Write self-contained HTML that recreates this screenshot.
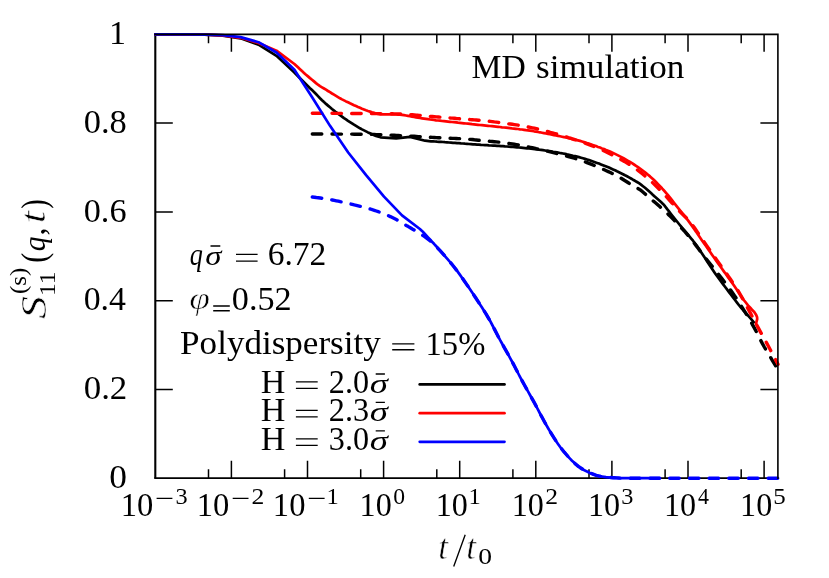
<!DOCTYPE html>
<html>
<head>
<meta charset="utf-8">
<title>S11(q,t) MD simulation</title>
<style>
html,body{margin:0;padding:0;background:#fff;}
svg{will-change:transform;}
body{width:829px;height:578px;overflow:hidden;font-family:"Liberation Serif",serif;}
svg{display:block;}
svg text{font-family:"Liberation Serif",serif;fill:#000;}
</style>
</head>
<body>
<svg width="829" height="578" viewBox="0 0 829 578">
<rect x="0" y="0" width="829" height="578" fill="#ffffff"/>
<!-- ticks -->
<path d="M208.5,478.2 v-8.9 M208.5,34.35 v8.9 M231.4,478.2 v-17.5 M231.4,34.35 v17.5 M284.6,478.2 v-8.9 M284.6,34.35 v8.9 M307.5,478.2 v-17.5 M307.5,34.35 v17.5 M360.7,478.2 v-8.9 M360.7,34.35 v8.9 M383.6,478.2 v-17.5 M383.6,34.35 v17.5 M436.8,478.2 v-8.9 M436.8,34.35 v8.9 M459.7,478.2 v-17.5 M459.7,34.35 v17.5 M512.9,478.2 v-8.9 M512.9,34.35 v8.9 M535.8,478.2 v-17.5 M535.8,34.35 v17.5 M589.0,478.2 v-8.9 M589.0,34.35 v8.9 M611.9,478.2 v-17.5 M611.9,34.35 v17.5 M665.1,478.2 v-8.9 M665.1,34.35 v8.9 M688.0,478.2 v-17.5 M688.0,34.35 v17.5 M741.2,478.2 v-8.9 M741.2,34.35 v8.9 M764.1,478.2 v-17.5 M764.1,34.35 v17.5 M155.3,389.4 h17.5 M777.9,389.4 h-17.5 M155.3,300.7 h17.5 M777.9,300.7 h-17.5 M155.3,211.9 h17.5 M777.9,211.9 h-17.5 M155.3,123.1 h17.5 M777.9,123.1 h-17.5" fill="none" stroke="#000" stroke-width="1.5"/>
<!-- left / bottom axes (behind curves) -->
<path d="M155.3,33.550000000000004 V478.2" fill="none" stroke="#000" stroke-width="2.1"/>
<path d="M154.25,478.2 H777.9" fill="none" stroke="#000" stroke-width="1.75"/>
<!-- legend samples -->
<path d="M419.7,384.4 H504.5" stroke="#000" stroke-width="2.7" stroke-linecap="round" fill="none"/>
<path d="M419.7,413.2 H504.5" stroke="#f00" stroke-width="2.7" stroke-linecap="round" fill="none"/>
<path d="M419.7,441.8 H504.5" stroke="#00f" stroke-width="2.7" stroke-linecap="round" fill="none"/>
<!-- curves -->
<g fill="none" stroke-linejoin="round">
<path d="M155.3,34.4 L186.8,34.4 L204.7,34.7 L222.7,35.6 L240.6,38.3 L258.5,44.7 L276.5,55.8 L294.4,72.5 L298.0,76.2 L300.0,78.2 L302.0,80.2 L304.0,82.2 L306.0,84.2 L308.0,86.2 L310.0,88.2 L312.0,90.1 L314.0,92.0 L316.0,94.0 L318.0,96.1 L320.0,98.2 L322.0,100.2 L324.0,102.1 L326.0,103.9 L328.0,105.6 L330.0,107.3 L332.0,109.0 L334.0,110.6 L336.0,112.2 L338.0,113.7 L340.0,115.2 L342.0,116.6 L344.0,118.1 L346.0,119.4 L348.0,120.8 L350.0,122.1 L352.0,123.4 L354.0,124.7 L356.0,125.9 L358.0,127.1 L360.0,128.3 L362.0,129.4 L364.0,130.4 L366.0,131.4 L368.0,132.4 L370.0,133.3 L372.0,134.2 L374.0,135.0 L376.0,135.9 L380.5,137.3 L396.2,138.3 L410.1,136.9 L425.1,140.7 L427.0,140.9 L429.0,141.1 L431.0,141.3 L433.0,141.4 L435.0,141.5 L437.0,141.7 L439.0,141.8 L441.0,141.9 L443.0,142.0 L445.0,142.2 L447.0,142.3 L449.0,142.5 L451.0,142.6 L453.0,142.8 L455.0,142.9 L457.0,143.1 L459.0,143.2 L461.0,143.4 L463.0,143.5 L465.0,143.7 L467.0,143.8 L469.0,144.0 L471.0,144.1 L473.0,144.3 L475.0,144.4 L477.0,144.6 L479.0,144.7 L481.0,144.9 L483.0,145.0 L485.0,145.1 L487.0,145.2 L489.0,145.4 L491.0,145.5 L493.0,145.6 L495.0,145.7 L497.0,145.8 L499.0,145.9 L501.0,146.1 L503.0,146.2 L505.0,146.4 L507.0,146.5 L509.0,146.7 L511.0,146.8 L513.0,147.0 L515.0,147.1 L517.0,147.3 L519.0,147.5 L521.0,147.7 L523.0,147.9 L525.0,148.1 L527.0,148.3 L529.0,148.5 L531.0,148.7 L533.0,148.9 L535.0,149.2 L537.0,149.4 L539.0,149.7 L541.0,149.9 L543.0,150.2 L545.0,150.5 L547.0,150.8 L549.0,151.1 L551.0,151.4 L553.0,151.8 L555.0,152.1 L557.0,152.4 L559.0,152.8 L561.0,153.2 L563.0,153.5 L565.0,153.9 L567.0,154.4 L569.0,154.8 L571.0,155.2 L573.0,155.7 L575.0,156.1 L577.0,156.6 L579.0,157.1 L581.0,157.7 L583.0,158.3 L585.0,158.9 L587.0,159.5 L589.0,160.1 L591.0,160.8 L593.0,161.5 L595.0,162.2 L597.0,162.9 L599.0,163.6 L601.0,164.4 L603.0,165.2 L605.0,166.0 L607.0,166.8 L609.0,167.6 L611.0,168.5 L613.0,169.4 L615.0,170.3 L617.0,171.3 L619.0,172.2 L621.0,173.2 L623.0,174.2 L625.0,175.3 L627.0,176.3 L629.0,177.4 L631.0,178.5 L633.0,179.7 L635.0,180.8 L637.0,182.0 L639.0,183.2 L641.0,184.6 L643.0,186.2 L645.0,187.8 L647.0,189.5 L649.0,191.3 L651.0,193.1 L653.0,194.9 L655.0,196.8 L657.0,198.5 L659.0,200.2 L661.0,202.0 L663.0,203.9 L665.0,206.2 L667.0,208.9 L669.0,211.4 L671.0,214.0 L673.0,216.5 L675.0,219.0 L677.0,221.5 L679.0,224.0 L681.0,226.4 L683.0,228.8 L685.0,231.2 L687.0,233.5 L689.0,235.9 L691.0,238.3 L693.0,240.7 L695.0,243.3 L697.0,246.0 L699.0,248.9 L701.0,251.9 L703.0,255.0 L705.0,258.1 L707.0,261.2 L709.0,264.3 L711.0,267.3 L713.0,270.3 L715.0,273.2 L717.0,276.0 L719.0,278.7 L721.0,281.4 L723.0,284.1 L725.0,286.8 L727.0,289.4 L729.0,292.1 L731.0,294.8 L733.0,297.4 L735.0,300.0 L737.0,302.6 L739.0,305.2 L741.0,307.6 L743.0,310.0 L745.0,312.2 L747.0,314.4 L749.0,316.6 L751.0,318.9 L753.0,321.3 L753.8,322.3" stroke="#000" stroke-width="2.7" stroke-linecap="round"/>
<path d="M312.3,134.0 L314.3,134.0 L316.3,134.0 L318.3,134.0 L320.3,134.0 L322.3,134.0 L324.3,134.0 L326.3,134.0 L328.3,134.0 L330.3,134.0 L332.3,134.0 L334.3,134.0 L336.3,134.1 L338.3,134.1 L340.3,134.1 L342.3,134.1 L344.3,134.1 L346.3,134.1 L348.3,134.1 L350.3,134.1 L352.3,134.1 L354.3,134.2 L356.3,134.2 L358.3,134.2 L360.3,134.2 L362.3,134.2 L364.3,134.3 L366.3,134.3 L368.3,134.3 L370.3,134.4 L372.3,134.4 L374.3,134.5 L376.3,134.6 L378.3,134.6 L380.3,134.7 L382.3,134.8 L384.3,134.9 L386.3,135.0 L388.3,135.0 L390.3,135.1 L392.3,135.2 L394.3,135.3 L396.3,135.4 L398.3,135.5 L400.3,135.6 L402.3,135.6 L404.3,135.7 L406.3,135.9 L408.3,136.0 L410.3,136.1 L412.3,136.2 L414.3,136.3 L416.3,136.4 L418.3,136.6 L420.3,136.7 L422.3,136.8 L424.3,136.9 L426.3,137.1 L428.3,137.2 L430.3,137.3 L432.3,137.4 L434.3,137.5 L436.3,137.6 L438.3,137.7 L440.3,137.8 L442.3,137.9 L444.3,138.0 L446.3,138.1 L448.3,138.2 L450.3,138.3 L452.3,138.4 L454.3,138.4 L456.3,138.5 L458.3,138.6 L460.3,138.7 L462.3,138.8 L464.3,139.0 L466.3,139.1 L468.3,139.2 L470.3,139.4 L472.3,139.5 L474.3,139.8 L476.3,140.0 L478.3,140.2 L480.3,140.4 L482.3,140.6 L484.3,140.8 L486.3,141.0 L488.3,141.2 L490.3,141.4 L492.3,141.5 L494.3,141.7 L496.3,141.9 L498.3,142.1 L500.3,142.3 L502.3,142.6 L504.3,142.8 L506.3,143.1 L508.3,143.4 L510.3,143.7 L512.3,144.0 L514.3,144.3 L516.3,144.6 L518.3,145.0 L520.3,145.4 L522.3,145.7 L524.3,146.1 L526.3,146.5 L528.3,146.9 L530.3,147.3 L532.3,147.7 L534.3,148.1 L536.3,148.6 L538.3,149.0 L540.3,149.5 L542.3,150.0 L544.3,150.5 L546.3,150.9 L548.3,151.4 L550.3,151.9 L552.3,152.4 L554.3,152.9 L556.3,153.4 L558.3,153.9 L560.3,154.4 L562.3,154.9 L564.3,155.4 L566.3,156.0 L568.3,156.5 L570.3,157.0 L572.3,157.6 L574.3,158.2 L576.3,158.8 L578.3,159.5 L580.3,160.1 L582.3,160.8 L584.3,161.6 L586.3,162.3 L588.3,163.1 L590.3,163.9 L592.3,164.7 L594.3,165.5 L596.3,166.3 L598.3,167.2 L600.3,168.0 L602.3,168.9 L604.3,169.8 L606.3,170.7 L608.3,171.6 L610.3,172.5 L612.3,173.5 L614.3,174.5 L616.3,175.6 L618.3,176.7 L620.3,177.8 L622.3,179.0 L624.3,180.3 L626.3,181.5 L628.3,182.8 L630.3,184.1 L632.3,185.3 L634.3,186.5 L636.3,187.6 L638.3,188.7 L640.3,189.9 L642.3,191.5 L644.3,193.2 L646.3,195.1 L648.3,197.0 L650.3,198.7 L652.3,200.2 L654.3,201.8 L656.3,203.5 L658.3,205.3 L660.3,207.1 L662.3,208.9 L664.3,210.8 L666.3,212.6 L668.3,214.4 L670.3,216.3 L672.3,218.3 L674.3,220.4 L676.3,222.5 L678.3,224.7 L680.3,226.8 L682.3,228.9 L684.3,231.0 L686.3,233.3 L688.3,235.6 L690.3,238.1 L692.3,240.7 L694.3,243.3 L696.3,245.9 L698.3,248.6 L700.3,251.2 L702.3,253.9 L704.3,256.5 L706.3,259.0 L708.3,261.5 L710.3,264.0 L712.3,266.5 L714.3,269.0 L716.3,271.5 L718.3,274.1 L720.3,276.6 L722.3,279.1 L724.3,281.7 L726.3,284.3 L728.3,286.9 L730.3,289.6 L732.3,292.5 L734.3,295.4 L736.3,298.3 L738.3,301.4 L740.3,304.5 L742.3,307.6 L744.3,310.8 L746.3,314.1 L748.3,317.5 L750.3,320.9 L752.3,324.3 L754.3,327.9 L756.3,331.7 L758.3,335.7 L760.3,339.6 L762.3,343.4 L764.3,347.0 L766.3,350.4 L768.3,353.8 L770.3,357.0 L772.3,360.3 L774.3,363.5 L776.3,366.8 L778.0,369.5" stroke="#000" stroke-width="3.4" stroke-dasharray="9.5 10.2" stroke-linecap="round"/>
<path d="M155.3,34.4 L186.8,34.4 L204.7,34.6 L222.7,35.3 L240.6,37.8 L258.5,43.0 L276.5,50.7 L294.4,64.0 L298.0,67.3 L300.0,69.2 L302.0,71.1 L304.0,72.9 L306.0,74.7 L308.0,76.4 L310.0,78.1 L312.0,79.7 L314.0,81.4 L316.0,83.1 L318.0,84.7 L320.0,86.1 L322.0,87.3 L324.0,88.5 L326.0,89.7 L328.0,91.0 L330.0,92.2 L332.0,93.5 L334.0,94.7 L336.0,95.9 L338.0,97.1 L340.0,98.3 L342.0,99.4 L344.0,100.4 L346.0,101.4 L348.0,102.3 L350.0,103.3 L352.0,104.2 L354.0,105.2 L356.0,106.1 L358.0,107.0 L360.0,107.8 L362.0,108.7 L364.0,109.5 L366.0,110.3 L368.0,111.0 L370.0,111.6 L372.0,112.3 L374.0,112.9 L376.0,113.5 L378.0,114.0 L380.0,114.2 L382.0,114.3 L384.0,114.3 L386.0,114.4 L388.0,114.4 L390.0,114.4 L392.0,114.4 L394.0,114.5 L396.0,114.5 L398.0,114.6 L400.0,114.7 L402.0,114.9 L404.0,115.2 L406.0,115.5 L408.0,115.9 L410.0,116.3 L412.0,116.7 L414.0,117.0 L416.0,117.3 L418.0,117.6 L420.0,118.0 L422.0,118.3 L424.0,118.6 L426.0,118.9 L428.0,119.2 L430.0,119.5 L432.0,119.7 L434.0,120.0 L436.0,120.3 L438.0,120.5 L440.0,120.7 L442.0,121.0 L444.0,121.2 L446.0,121.4 L448.0,121.6 L450.0,121.8 L452.0,122.0 L454.0,122.2 L456.0,122.4 L458.0,122.7 L460.0,122.9 L462.0,123.1 L464.0,123.3 L466.0,123.5 L468.0,123.7 L470.0,123.9 L472.0,124.2 L474.0,124.4 L476.0,124.6 L478.0,124.8 L480.0,125.0 L482.0,125.2 L484.0,125.4 L486.0,125.6 L488.0,125.8 L490.0,126.0 L492.0,126.2 L494.0,126.4 L496.0,126.6 L498.0,126.8 L500.0,127.0 L502.0,127.3 L504.0,127.5 L506.0,127.7 L508.0,127.9 L510.0,128.1 L512.0,128.4 L514.0,128.6 L516.0,128.8 L518.0,129.0 L520.0,129.3 L522.0,129.5 L524.0,129.8 L526.0,130.1 L528.0,130.3 L530.0,130.6 L532.0,130.9 L534.0,131.3 L536.0,131.6 L538.0,132.0 L540.0,132.3 L542.0,132.7 L544.0,133.1 L546.0,133.5 L548.0,133.9 L550.0,134.3 L552.0,134.7 L554.0,135.1 L556.0,135.5 L558.0,135.9 L560.0,136.3 L562.0,136.7 L564.0,137.1 L566.0,137.5 L568.0,138.0 L570.0,138.4 L572.0,138.9 L574.0,139.4 L576.0,139.9 L578.0,140.4 L580.0,140.9 L582.0,141.5 L584.0,142.1 L586.0,142.7 L588.0,143.4 L590.0,144.0 L592.0,144.7 L594.0,145.4 L596.0,146.1 L598.0,146.9 L600.0,147.6 L602.0,148.4 L604.0,149.1 L606.0,150.0 L608.0,150.8 L610.0,151.6 L612.0,152.5 L614.0,153.4 L616.0,154.4 L618.0,155.4 L620.0,156.4 L622.0,157.4 L624.0,158.5 L626.0,159.6 L628.0,160.8 L630.0,162.0 L632.0,163.2 L634.0,164.5 L636.0,165.8 L638.0,167.1 L640.0,168.5 L642.0,170.0 L644.0,171.5 L646.0,173.1 L648.0,174.7 L650.0,176.4 L652.0,178.2 L654.0,180.1 L656.0,182.0 L658.0,184.1 L660.0,186.2 L662.0,188.3 L664.0,190.5 L666.0,192.8 L668.0,195.2 L670.0,197.7 L672.0,200.2 L674.0,202.8 L676.0,205.4 L678.0,207.9 L680.0,210.4 L682.0,212.9 L684.0,215.4 L686.0,217.9 L688.0,220.4 L690.0,223.1 L692.0,225.9 L694.0,228.8 L696.0,231.6 L698.0,234.6 L700.0,237.5 L702.0,240.4 L704.0,243.2 L706.0,246.1 L708.0,248.9 L710.0,251.8 L712.0,254.7 L714.0,257.5 L716.0,260.4 L718.0,263.2 L720.0,266.0 L722.0,268.8 L724.0,271.6 L726.0,274.3 L728.0,277.1 L730.0,279.9 L732.0,282.7 L734.0,285.6 L736.0,288.5 L738.0,291.5 L740.0,294.5 L742.0,297.4 L744.0,300.2 L746.0,302.8 L748.0,305.3 L750.0,307.5 L752.0,309.7 L754.0,311.7 L754.1,311.8 L756.2,315.0 L757.1,317.3 L757.2,319.2 L756.0,323.6" stroke="#f00" stroke-width="2.7" stroke-linecap="round"/>
<path d="M312.3,113.3 L314.3,113.3 L316.3,113.3 L318.3,113.3 L320.3,113.3 L322.3,113.3 L324.3,113.3 L326.3,113.3 L328.3,113.3 L330.3,113.3 L332.3,113.3 L334.3,113.4 L336.3,113.4 L338.3,113.4 L340.3,113.4 L342.3,113.4 L344.3,113.4 L346.3,113.4 L348.3,113.4 L350.3,113.4 L352.3,113.5 L354.3,113.5 L356.3,113.5 L358.3,113.5 L360.3,113.5 L362.3,113.5 L364.3,113.5 L366.3,113.5 L368.3,113.6 L370.3,113.6 L372.3,113.6 L374.3,113.6 L376.3,113.6 L378.3,113.6 L380.3,113.7 L382.3,113.7 L384.3,113.7 L386.3,113.7 L388.3,113.8 L390.3,113.8 L392.3,113.8 L394.3,113.9 L396.3,113.9 L398.3,113.9 L400.3,114.0 L402.3,114.1 L404.3,114.2 L406.3,114.3 L408.3,114.4 L410.3,114.6 L412.3,114.7 L414.3,114.9 L416.3,115.1 L418.3,115.3 L420.3,115.4 L422.3,115.6 L424.3,115.8 L426.3,116.0 L428.3,116.2 L430.3,116.4 L432.3,116.5 L434.3,116.7 L436.3,116.9 L438.3,117.0 L440.3,117.2 L442.3,117.3 L444.3,117.5 L446.3,117.6 L448.3,117.8 L450.3,118.0 L452.3,118.1 L454.3,118.3 L456.3,118.5 L458.3,118.6 L460.3,118.8 L462.3,118.9 L464.3,119.1 L466.3,119.2 L468.3,119.4 L470.3,119.6 L472.3,119.7 L474.3,119.9 L476.3,120.0 L478.3,120.2 L480.3,120.3 L482.3,120.5 L484.3,120.7 L486.3,120.9 L488.3,121.2 L490.3,121.4 L492.3,121.6 L494.3,121.9 L496.3,122.1 L498.3,122.4 L500.3,122.7 L502.3,122.9 L504.3,123.2 L506.3,123.5 L508.3,123.8 L510.3,124.0 L512.3,124.3 L514.3,124.6 L516.3,124.9 L518.3,125.2 L520.3,125.6 L522.3,125.9 L524.3,126.2 L526.3,126.6 L528.3,127.0 L530.3,127.4 L532.3,127.8 L534.3,128.2 L536.3,128.7 L538.3,129.2 L540.3,129.7 L542.3,130.2 L544.3,130.7 L546.3,131.2 L548.3,131.7 L550.3,132.3 L552.3,132.8 L554.3,133.4 L556.3,133.9 L558.3,134.5 L560.3,135.1 L562.3,135.7 L564.3,136.3 L566.3,136.9 L568.3,137.6 L570.3,138.2 L572.3,138.9 L574.3,139.5 L576.3,140.2 L578.3,140.9 L580.3,141.5 L582.3,142.2 L584.3,142.9 L586.3,143.6 L588.3,144.3 L590.3,145.1 L592.3,145.8 L594.3,146.6 L596.3,147.4 L598.3,148.3 L600.3,149.1 L602.3,150.0 L604.3,151.0 L606.3,151.9 L608.3,152.9 L610.3,153.9 L612.3,154.9 L614.3,155.9 L616.3,157.0 L618.3,158.0 L620.3,159.1 L622.3,160.3 L624.3,161.4 L626.3,162.6 L628.3,163.8 L630.3,165.1 L632.3,166.4 L634.3,167.7 L636.3,169.1 L638.3,170.6 L640.3,172.1 L642.3,173.7 L644.3,175.3 L646.3,177.0 L648.3,178.7 L650.3,180.5 L652.3,182.4 L654.3,184.3 L656.3,186.3 L658.3,188.3 L660.3,190.4 L662.3,192.4 L664.3,194.5 L666.3,196.6 L668.3,198.8 L670.3,201.1 L672.3,203.3 L674.3,205.5 L676.3,207.7 L678.3,209.9 L680.3,212.0 L682.3,214.0 L684.3,215.9 L686.3,217.8 L688.3,219.9 L690.3,222.2 L692.3,224.8 L694.3,227.5 L696.3,230.4 L698.3,233.4 L700.3,236.4 L702.3,239.3 L704.3,242.2 L706.3,245.1 L708.3,247.9 L710.3,250.8 L712.3,253.6 L714.3,256.5 L716.3,259.4 L718.3,262.2 L720.3,265.0 L722.3,267.8 L724.3,270.6 L726.3,273.4 L728.3,276.2 L730.3,279.0 L732.3,282.0 L734.3,285.0 L736.3,288.0 L738.3,291.2 L740.3,294.6 L742.3,298.1 L744.3,301.7 L746.3,305.5 L748.3,309.2 L750.3,312.9 L752.3,316.7 L754.3,320.5 L756.3,324.2 L758.3,327.9 L760.3,331.6 L762.3,335.2 L764.3,338.7 L766.3,342.3 L768.3,346.0 L770.3,349.8 L772.3,353.6 L774.3,357.4 L776.3,361.1 L778.0,364.3" stroke="#f00" stroke-width="3.4" stroke-dasharray="9.5 10.2" stroke-linecap="round"/>
<path d="M155.3,34.4 L186.8,34.4 L204.7,34.6 L222.7,35.2 L240.6,37.1 L258.5,42.2 L276.5,52.5 L294.4,69.8 L312.3,97.4 L330.2,126.1 L348.2,152.5 L366.1,175.2 L384.0,196.6 L402.0,215.4 L419.9,229.0 L422.0,230.9 L424.0,233.0 L426.0,235.1 L428.0,237.3 L430.0,239.5 L432.0,241.7 L434.0,243.8 L436.0,246.0 L438.0,248.2 L440.0,250.4 L442.0,252.7 L444.0,255.0 L446.0,257.3 L448.0,259.6 L450.0,262.0 L452.0,264.4 L454.0,266.9 L456.0,269.5 L458.0,272.1 L460.0,274.9 L462.0,277.7 L464.0,280.5 L466.0,283.4 L468.0,286.3 L470.0,289.2 L472.0,292.2 L474.0,295.2 L476.0,298.2 L478.0,301.3 L480.0,304.4 L482.0,307.5 L484.0,310.7 L486.0,313.9 L488.0,317.3 L490.0,320.7 L492.0,324.5 L494.0,328.3 L496.0,332.3 L498.0,336.1 L500.0,339.9 L502.0,343.5 L504.0,347.1 L506.0,350.6 L508.0,354.2 L510.0,357.8 L512.0,361.5 L514.0,365.3 L516.0,369.1 L518.0,373.0 L520.0,376.8 L522.0,380.6 L524.0,384.3 L526.0,387.9 L528.0,391.4 L530.0,395.0 L532.0,398.5 L534.0,402.1 L536.0,405.8 L538.0,409.7 L540.0,413.5 L542.0,417.2 L544.0,420.9 L546.0,424.5 L548.0,428.0 L550.0,431.4 L552.0,434.7 L554.0,437.9 L556.0,441.0 L558.0,443.9 L560.0,446.7 L562.0,449.3 L564.0,451.8 L566.0,454.2 L568.0,456.5 L570.0,458.6 L572.0,460.7 L574.0,462.6 L576.0,464.5 L578.0,466.1 L580.0,467.5 L582.0,468.8 L584.0,470.0 L586.0,471.1 L588.0,472.0 L590.0,472.9 L592.0,473.7 L594.0,474.5 L596.0,475.2 L598.0,475.8 L600.0,476.2 L602.0,476.5 L604.0,476.8 L606.0,477.1 L608.0,477.3 L610.0,477.5 L612.0,477.7 L614.0,477.8 L616.0,477.9 L618.0,478.0 L620.0,478.1 L622.0,478.2 L624.0,478.2 L626.0,478.2 L628.0,478.2 L630.0,478.2 L632.0,478.2 L634.0,478.2 L636.0,478.2 L638.0,478.2 L640.0,478.2 L642.0,478.2 L644.0,478.2 L646.0,478.2 L648.0,478.2 L650.0,478.2 L652.0,478.2 L654.0,478.2 L656.0,478.2 L658.0,478.2 L660.0,478.2" stroke="#00f" stroke-width="2.7" stroke-linecap="round"/>
<path d="M312.3,197.0 L314.3,197.2 L316.3,197.5 L318.3,197.7 L320.3,198.0 L322.3,198.3 L324.3,198.6 L326.3,198.9 L328.3,199.3 L330.3,199.6 L332.3,200.0 L334.3,200.4 L336.3,200.8 L338.3,201.2 L340.3,201.7 L342.3,202.1 L344.3,202.6 L346.3,203.0 L348.3,203.5 L350.3,203.9 L352.3,204.4 L354.3,204.9 L356.3,205.3 L358.3,205.8 L360.3,206.3 L362.3,206.8 L364.3,207.3 L366.3,207.9 L368.3,208.4 L370.3,209.0 L372.3,209.7 L374.3,210.3 L376.3,211.0 L378.3,211.7 L380.3,212.4 L382.3,213.2 L384.3,214.0 L386.3,214.8 L388.3,215.7 L390.3,216.6 L392.3,217.6 L394.3,218.6 L396.3,219.6 L398.3,220.7 L400.3,221.9 L402.3,223.1 L404.3,224.3 L406.3,225.5 L408.3,226.6 L410.3,227.8 L412.3,229.0 L414.3,230.1 L416.3,231.4 L418.3,232.6 L420.3,233.9 L422.3,235.1 L424.3,236.4 L426.3,237.8 L428.3,239.3 L430.3,240.9 L432.3,242.8 L434.3,244.7 L436.3,246.7 L438.3,248.8 L440.3,250.9 L442.3,253.1 L444.3,255.3 L446.3,257.6 L448.3,260.0 L450.3,262.3 L452.3,264.8 L454.3,267.3 L456.3,269.9 L458.3,272.5 L460.3,275.3 L462.3,278.1 L464.3,281.0 L466.3,283.9 L468.3,286.8 L470.3,289.7 L472.3,292.7 L474.3,295.7 L476.3,298.7 L478.3,301.8 L480.3,304.9 L482.3,308.0 L484.3,311.2 L486.3,314.4 L488.3,317.8 L490.3,321.3 L492.3,325.0 L494.3,328.9 L496.3,332.8 L498.3,336.7 L500.3,340.4 L502.3,344.0 L504.3,347.6 L506.3,351.2 L508.3,354.7 L510.3,358.3 L512.3,362.0 L514.3,365.8 L516.3,369.7 L518.3,373.5 L520.3,377.4 L522.3,381.1 L524.3,384.8 L526.3,388.4 L528.3,392.0 L530.3,395.5 L532.3,399.1 L534.3,402.7 L536.3,406.4 L538.3,410.3 L540.3,414.1 L542.3,417.8 L544.3,421.5 L546.3,425.1 L548.3,428.5 L550.3,431.9 L552.3,435.1 L554.3,438.3 L556.3,441.4 L558.3,444.3 L560.3,447.1 L562.3,449.7 L564.3,452.2 L566.3,454.5 L568.3,456.8 L570.3,458.9 L572.3,461.0 L574.3,462.9 L576.3,464.7 L578.3,466.3 L580.3,467.7 L582.3,469.0 L584.3,470.2 L586.3,471.2 L588.3,472.2 L590.3,473.0 L592.3,473.8 L594.3,474.6 L596.3,475.3 L598.3,475.8 L600.3,476.3 L602.3,476.6 L604.3,476.9 L606.3,477.1 L608.3,477.4 L610.3,477.5 L612.3,477.7 L614.3,477.8 L616.3,477.9 L618.3,478.0 L620.3,478.1 L622.3,478.2 L624.3,478.2 L626.3,478.2 L628.3,478.2 L630.3,478.2 L632.3,478.2 L634.3,478.2 L636.3,478.2 L638.3,478.2 L640.3,478.2 L642.3,478.2 L644.3,478.2 L646.3,478.2 L648.3,478.2 L650.3,478.2 L652.3,478.2 L654.3,478.2 L656.3,478.2 L658.3,478.2 L660.3,478.2 L662.3,478.2 L664.3,478.2 L666.3,478.2 L668.3,478.2 L670.3,478.2 L672.3,478.2 L674.3,478.2 L676.3,478.2 L678.3,478.2 L680.3,478.2 L682.3,478.2 L684.3,478.2 L686.3,478.2 L688.3,478.2 L690.3,478.2 L692.3,478.2 L694.3,478.2 L696.3,478.2 L698.3,478.2 L700.3,478.2 L702.3,478.2 L704.3,478.2 L706.3,478.2 L708.3,478.2 L710.3,478.2 L712.3,478.2 L714.3,478.2 L716.3,478.2 L718.3,478.2 L720.3,478.2 L722.3,478.2 L724.3,478.2 L726.3,478.2 L728.3,478.2 L730.3,478.2 L732.3,478.2 L734.3,478.2 L736.3,478.2 L738.3,478.2 L740.3,478.2 L742.3,478.2 L744.3,478.2 L746.3,478.2 L748.3,478.2 L750.3,478.2 L752.3,478.2 L754.3,478.2 L756.3,478.2 L758.3,478.2 L760.3,478.2 L762.3,478.2 L764.3,478.2 L766.3,478.2 L768.3,478.2 L770.3,478.2 L772.3,478.2 L774.3,478.2 L776.3,478.2 L778.0,478.2" stroke="#00f" stroke-width="3.4" stroke-dasharray="9.5 10.2" stroke-linecap="round"/>
</g>
<!-- top / right border (in front) -->
<path d="M154.25,34.35 H777.9 V479.05" fill="none" stroke="#000" stroke-width="1.6" stroke-linejoin="miter"/>
<!-- sigma bars -->
<path d="M156.6,498.3 H172.4 M232.7,498.3 H248.5 M308.8,498.3 H324.6 M453.7,566.6 L465.2,534.8 M210.5,246 H220.3 M236,254.3 H257.6 M236,261.1 H257.6 M213.2,306 H229.8 M213.2,310.7 H229.8 M392.2,343.9 H414.4 M392.2,349.7 H414.4 M295.9,381.9 H317.7 M295.9,388.4 H317.7 M375.7,374.0 H384.9 M295.9,410.4 H317.7 M295.9,416.9 H317.7 M375.7,402.4 H384.9 M295.9,438.8 H317.7 M295.9,445.3 H317.7 M375.7,430.9 H384.9" stroke="#000" stroke-width="1.35" fill="none"/>
<!-- text -->
<text x="83.71" y="132.8" font-size="33.4" textLength="43.08" lengthAdjust="spacingAndGlyphs">0.8</text>
<text x="83.72" y="221.6" font-size="33.4" textLength="42.81" lengthAdjust="spacingAndGlyphs">0.6</text>
<text x="83.73" y="310.4" font-size="33.4" textLength="42.27" lengthAdjust="spacingAndGlyphs">0.4</text>
<text x="83.69" y="399.1" font-size="33.4" textLength="43.64" lengthAdjust="spacingAndGlyphs">0.2</text>
<text x="108.94" y="43.9" font-size="33.4" textLength="17.06" lengthAdjust="spacingAndGlyphs">1</text>
<text x="109.28" y="487.9" font-size="33.4" textLength="17.70" lengthAdjust="spacingAndGlyphs">0</text>
<text x="120.67" y="516.0" font-size="33.4" textLength="32.58" lengthAdjust="spacingAndGlyphs">10</text>
<text x="175.43" y="504.3" font-size="22.6" textLength="12.13" lengthAdjust="spacingAndGlyphs">3</text>
<text x="196.77" y="516.0" font-size="33.4" textLength="32.58" lengthAdjust="spacingAndGlyphs">10</text>
<text x="251.47" y="504.3" font-size="22.6" textLength="12.80" lengthAdjust="spacingAndGlyphs">2</text>
<text x="272.87" y="516.0" font-size="33.4" textLength="32.58" lengthAdjust="spacingAndGlyphs">10</text>
<text x="326.52" y="504.3" font-size="22.6" textLength="12.29" lengthAdjust="spacingAndGlyphs">1</text>
<text x="359.61" y="516.0" font-size="33.4" textLength="32.12" lengthAdjust="spacingAndGlyphs">10</text>
<text x="393.32" y="504.3" font-size="22.6" textLength="11.82" lengthAdjust="spacingAndGlyphs">0</text>
<text x="435.71" y="516.0" font-size="33.4" textLength="32.12" lengthAdjust="spacingAndGlyphs">10</text>
<text x="468.62" y="504.3" font-size="22.6" textLength="12.29" lengthAdjust="spacingAndGlyphs">1</text>
<text x="511.81" y="516.0" font-size="33.4" textLength="32.12" lengthAdjust="spacingAndGlyphs">10</text>
<text x="545.17" y="504.3" font-size="22.6" textLength="12.80" lengthAdjust="spacingAndGlyphs">2</text>
<text x="587.91" y="516.0" font-size="33.4" textLength="32.12" lengthAdjust="spacingAndGlyphs">10</text>
<text x="621.33" y="504.3" font-size="22.6" textLength="12.13" lengthAdjust="spacingAndGlyphs">3</text>
<text x="664.01" y="516.0" font-size="33.4" textLength="32.12" lengthAdjust="spacingAndGlyphs">10</text>
<text x="698.01" y="504.3" font-size="22.6" textLength="10.97" lengthAdjust="spacingAndGlyphs">4</text>
<text x="740.11" y="516.0" font-size="33.4" textLength="32.12" lengthAdjust="spacingAndGlyphs">10</text>
<text x="773.22" y="504.3" font-size="22.6" textLength="12.46" lengthAdjust="spacingAndGlyphs">5</text>
<text x="438.29" y="559.4" font-size="36" font-style="italic" stroke="#fff" stroke-width="0.55" textLength="9.79" lengthAdjust="spacingAndGlyphs">t</text>
<text x="466.29" y="559.4" font-size="36" font-style="italic" stroke="#fff" stroke-width="0.55" textLength="9.79" lengthAdjust="spacingAndGlyphs">t</text>
<text x="478.38" y="564.2" font-size="22.6" textLength="13.79" lengthAdjust="spacingAndGlyphs">0</text>
<text x="471.49" y="78.0" font-size="33.4" textLength="54.23" lengthAdjust="spacingAndGlyphs">MD</text>
<text x="536.08" y="78.0" font-size="33.4" textLength="148.32" lengthAdjust="spacingAndGlyphs">simulation</text>
<text x="189.76" y="265.0" font-size="31" font-style="italic" textLength="13.08" lengthAdjust="spacingAndGlyphs">q</text>
<text x="205.21" y="265.0" font-size="27.5" font-style="italic" textLength="16.18" lengthAdjust="spacingAndGlyphs">σ</text>
<text x="267.69" y="265.2" font-size="33.4" textLength="58.65" lengthAdjust="spacingAndGlyphs">6.72</text>
<text x="189.39" y="309.4" font-size="31" font-style="italic" stroke="#fff" stroke-width="0.55" textLength="20.70" lengthAdjust="spacingAndGlyphs">φ</text>
<text x="231.82" y="309.7" font-size="33.4" textLength="59.87" lengthAdjust="spacingAndGlyphs">0.52</text>
<text x="180.14" y="354.1" font-size="33" textLength="200.58" lengthAdjust="spacingAndGlyphs">Polydispersity</text>
<text x="425.57" y="354.6" font-size="33.4" textLength="59.72" lengthAdjust="spacingAndGlyphs">15%</text>
<text x="260.77" y="392.8" font-size="33" textLength="24.67" lengthAdjust="spacingAndGlyphs">H</text>
<text x="328.85" y="393.0" font-size="33.4" textLength="40.25" lengthAdjust="spacingAndGlyphs">2.0</text>
<text x="369.80" y="392.8" font-size="27.5" font-style="italic" textLength="18.15" lengthAdjust="spacingAndGlyphs">σ</text>
<text x="260.77" y="421.2" font-size="33" textLength="24.67" lengthAdjust="spacingAndGlyphs">H</text>
<text x="328.85" y="421.4" font-size="33.4" textLength="40.25" lengthAdjust="spacingAndGlyphs">2.3</text>
<text x="369.80" y="421.2" font-size="27.5" font-style="italic" textLength="18.15" lengthAdjust="spacingAndGlyphs">σ</text>
<text x="260.77" y="449.7" font-size="33" textLength="24.67" lengthAdjust="spacingAndGlyphs">H</text>
<text x="328.85" y="449.9" font-size="33.4" textLength="40.25" lengthAdjust="spacingAndGlyphs">3.0</text>
<text x="369.80" y="449.7" font-size="27.5" font-style="italic" textLength="18.15" lengthAdjust="spacingAndGlyphs">σ</text>
<g transform="translate(45.2,318.4) rotate(-90)">
<text x="-0.63" y="0.6" font-size="36.5" font-style="italic" stroke="#fff" stroke-width="0.55" textLength="23.06" lengthAdjust="spacingAndGlyphs">S</text>
<text x="24.42" y="-19.2" font-size="23.2" textLength="26.32" lengthAdjust="spacingAndGlyphs">(s)</text>
<text x="22.44" y="9.6" font-size="22.6" textLength="24.59" lengthAdjust="spacingAndGlyphs">11</text>
<text x="55.57" y="0.4" font-size="36.8" textLength="10.07" lengthAdjust="spacingAndGlyphs">(</text>
<text x="67.15" y="0.0" font-size="31" font-style="italic" textLength="14.77" lengthAdjust="spacingAndGlyphs">q</text>
<text x="82.80" y="0.0" font-size="33.4" textLength="8.02" lengthAdjust="spacingAndGlyphs">,</text>
<text x="95.24" y="0.0" font-size="36" font-style="italic" stroke="#fff" stroke-width="0.55" textLength="12.35" lengthAdjust="spacingAndGlyphs">t</text>
<text x="109.73" y="0.4" font-size="36.8" textLength="9.55" lengthAdjust="spacingAndGlyphs">)</text>
</g>
</svg>
</body>
</html>
